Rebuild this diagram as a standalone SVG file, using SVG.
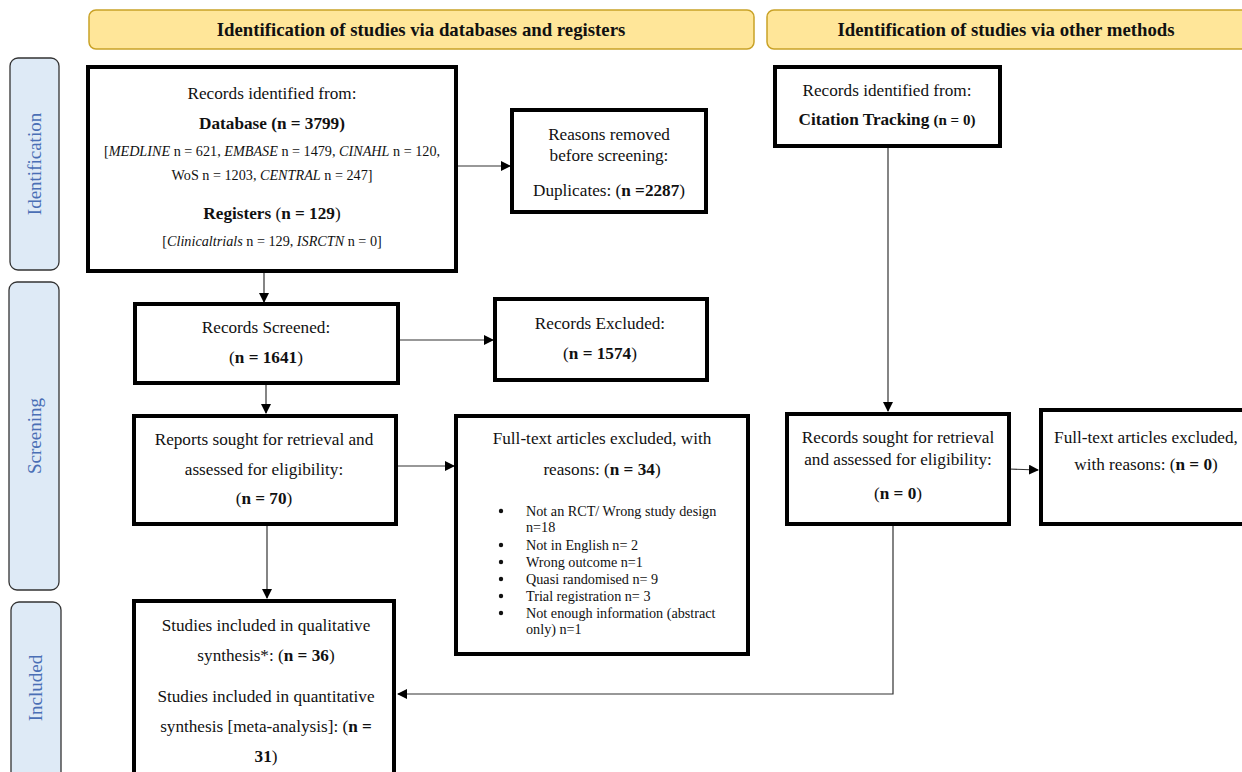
<svg xmlns="http://www.w3.org/2000/svg" width="1242" height="772" viewBox="0 0 1242 772">
<style>
text{font-family:"Liberation Serif","Times New Roman",serif;fill:#111;}
.hdr{fill:#FFE699;stroke:#C9A227;stroke-width:1.5;}
.hdrt{font-size:18.8px;font-weight:bold;text-anchor:middle;}
.side{fill:#DEEAF6;stroke:#333;stroke-width:1.3;}
.sidet{font-size:19px;fill:#4A6FB5;text-anchor:middle;}
.box{fill:#fff;stroke:#000;stroke-width:4;}
.t{font-size:17.2px;text-anchor:middle;}
.s{font-size:14.2px;text-anchor:middle;}
.b{font-weight:bold;}
.i{font-style:italic;}
.li{font-size:14.2px;}
.c{fill:none;stroke:#333;stroke-width:1.2;}
</style>
<defs>
<marker id="ah" markerWidth="10" markerHeight="10" refX="9" refY="5" orient="auto" markerUnits="userSpaceOnUse">
<path d="M0,0 L10,5 L0,10 z" fill="#000"/>
</marker>
</defs>

<g id="header-databases"><rect class="hdr" x="89" y="10" width="665" height="39" rx="7"/><text class="hdrt" x="421" y="36">Identification of studies via databases and registers</text></g>
<g id="header-other"><rect class="hdr" x="767" y="10" width="490" height="39" rx="7"/><text class="hdrt" x="1006" y="36">Identification of studies via other methods</text></g>

<g id="side-identification"><rect class="side" x="10" y="58" width="49" height="212" rx="8"/><text class="sidet" transform="translate(41,164) rotate(-90)">Identification</text></g>
<g id="side-screening"><rect class="side" x="9" y="282" width="50" height="308" rx="8"/><text class="sidet" transform="translate(41,436) rotate(-90)">Screening</text></g>
<g id="side-included"><rect class="side" x="11" y="602" width="50" height="185" rx="8"/><text class="sidet" transform="translate(42,688) rotate(-90)">Included</text></g>

<g id="connectors">
<line class="c" x1="456" y1="166" x2="510" y2="166" marker-end="url(#ah)"/>
<line class="c" x1="264" y1="271" x2="264" y2="302" marker-end="url(#ah)"/>
<line class="c" x1="398" y1="340" x2="493" y2="340" marker-end="url(#ah)"/>
<line class="c" x1="266" y1="383" x2="266" y2="413" marker-end="url(#ah)"/>
<line class="c" x1="398" y1="466" x2="454" y2="466" marker-end="url(#ah)"/>
<line class="c" x1="267" y1="509" x2="267" y2="598" marker-end="url(#ah)"/>
<line class="c" x1="888" y1="146" x2="888" y2="411" marker-end="url(#ah)"/>
<line class="c" x1="1009" y1="469" x2="1038" y2="470" marker-end="url(#ah)"/>
<polyline class="c" points="893,524 893,694 398,694" marker-end="url(#ah)"/>
</g>

<g id="records-identified">
<rect class="box" x="88" y="67" width="368" height="204"/>
<text class="t" x="272" y="99">Records identified from:</text>
<text class="t b" x="272" y="129">Database (n = 3799)</text>
<text class="s" x="272" y="156"><tspan>[</tspan><tspan class="i">MEDLINE</tspan> n = 621, <tspan class="i">EMBASE</tspan> n = 1479, <tspan class="i">CINAHL</tspan> n = 120,</text>
<text class="s" x="272" y="180">WoS n = 1203, <tspan class="i">CENTRAL</tspan> n = 247]</text>
<text class="t" x="272" y="219"><tspan class="b">Registers</tspan> (<tspan class="b">n = 129</tspan>)</text>
<text class="s" x="272" y="246">[<tspan class="i">Clinicaltrials</tspan> n = 129, <tspan class="i">ISRCTN</tspan> n = 0]</text>
</g>

<g id="removed-before-screening">
<rect class="box" x="512" y="110" width="194" height="102"/>
<text class="t" x="609" y="140">Reasons removed</text>
<text class="t" x="609" y="161">before screening:</text>
<text class="t" x="609" y="196">Duplicates: (<tspan class="b">n =2287</tspan>)</text>
</g>

<g id="citation-tracking">
<rect class="box" x="775" y="67" width="225" height="79"/>
<text class="t" x="887" y="96">Records identified from:</text>
<text class="t" x="887" y="125"><tspan class="b">Citation Tracking</tspan> <tspan class="b" style="font-size:15px">(n = 0)</tspan></text>
</g>

<g id="records-screened">
<rect class="box" x="135" y="304" width="263" height="79"/>
<text class="t" x="266" y="333">Records Screened:</text>
<text class="t" x="266" y="363">(<tspan class="b">n = 1641</tspan>)</text>
</g>

<g id="records-excluded">
<rect class="box" x="495" y="299" width="212" height="81"/>
<text class="t" x="600" y="329">Records Excluded:</text>
<text class="t" x="600" y="359">(<tspan class="b">n = 1574</tspan>)</text>
</g>

<g id="reports-sought">
<rect class="box" x="134" y="416" width="262" height="108"/>
<text class="t" x="264" y="445">Reports sought for retrieval and</text>
<text class="t" x="264" y="475">assessed for eligibility:</text>
<text class="t" x="264" y="504">(<tspan class="b">n = 70</tspan>)</text>
</g>

<g id="fulltext-excluded">
<rect class="box" x="456" y="416" width="292" height="238"/>
<text class="t" x="602" y="444">Full-text articles excluded, with</text>
<text class="t" x="602" y="475">reasons: (<tspan class="b">n = 34</tspan>)</text>
<g fill="#111">
<circle cx="501" cy="511" r="2.2"/><circle cx="501" cy="545" r="2.2"/><circle cx="501" cy="562" r="2.2"/><circle cx="501" cy="579" r="2.2"/><circle cx="501" cy="596" r="2.2"/><circle cx="501" cy="613" r="2.2"/>
</g>
<g class="li">
<text x="526" y="516">Not an RCT/ Wrong study design</text>
<text x="526" y="532">n=18</text>
<text x="526" y="550">Not in English n= 2</text>
<text x="526" y="567">Wrong outcome n=1</text>
<text x="526" y="584">Quasi randomised n= 9</text>
<text x="526" y="601">Trial registration n= 3</text>
<text x="526" y="618">Not enough information (abstract</text>
<text x="526" y="634">only) n=1</text>
</g>
</g>

<g id="records-sought-other">
<rect class="box" x="787" y="414" width="222" height="110"/>
<text class="t" x="898" y="443">Records sought for retrieval</text>
<text class="t" x="898" y="465">and assessed for eligibility:</text>
<text class="t" x="898" y="499">(<tspan class="b">n = 0</tspan>)</text>
</g>

<g id="fulltext-excluded-other">
<rect class="box" x="1041" y="410" width="220" height="114"/>
<text class="t" x="1146" y="443">Full-text articles excluded,</text>
<text class="t" x="1146" y="470">with reasons: (<tspan class="b">n = 0</tspan>)</text>
</g>

<g id="studies-included">
<rect class="box" x="134" y="601" width="260" height="190"/>
<text class="t" x="266" y="631">Studies included in qualitative</text>
<text class="t" x="266" y="661">synthesis*: (<tspan class="b">n = 36</tspan>)</text>
<text class="t" x="266" y="702">Studies included in quantitative</text>
<text class="t" x="266" y="732">synthesis [meta-analysis]: (<tspan class="b">n =</tspan></text>
<text class="t" x="266" y="762"><tspan class="b">31</tspan>)</text>
</g>
</svg>
